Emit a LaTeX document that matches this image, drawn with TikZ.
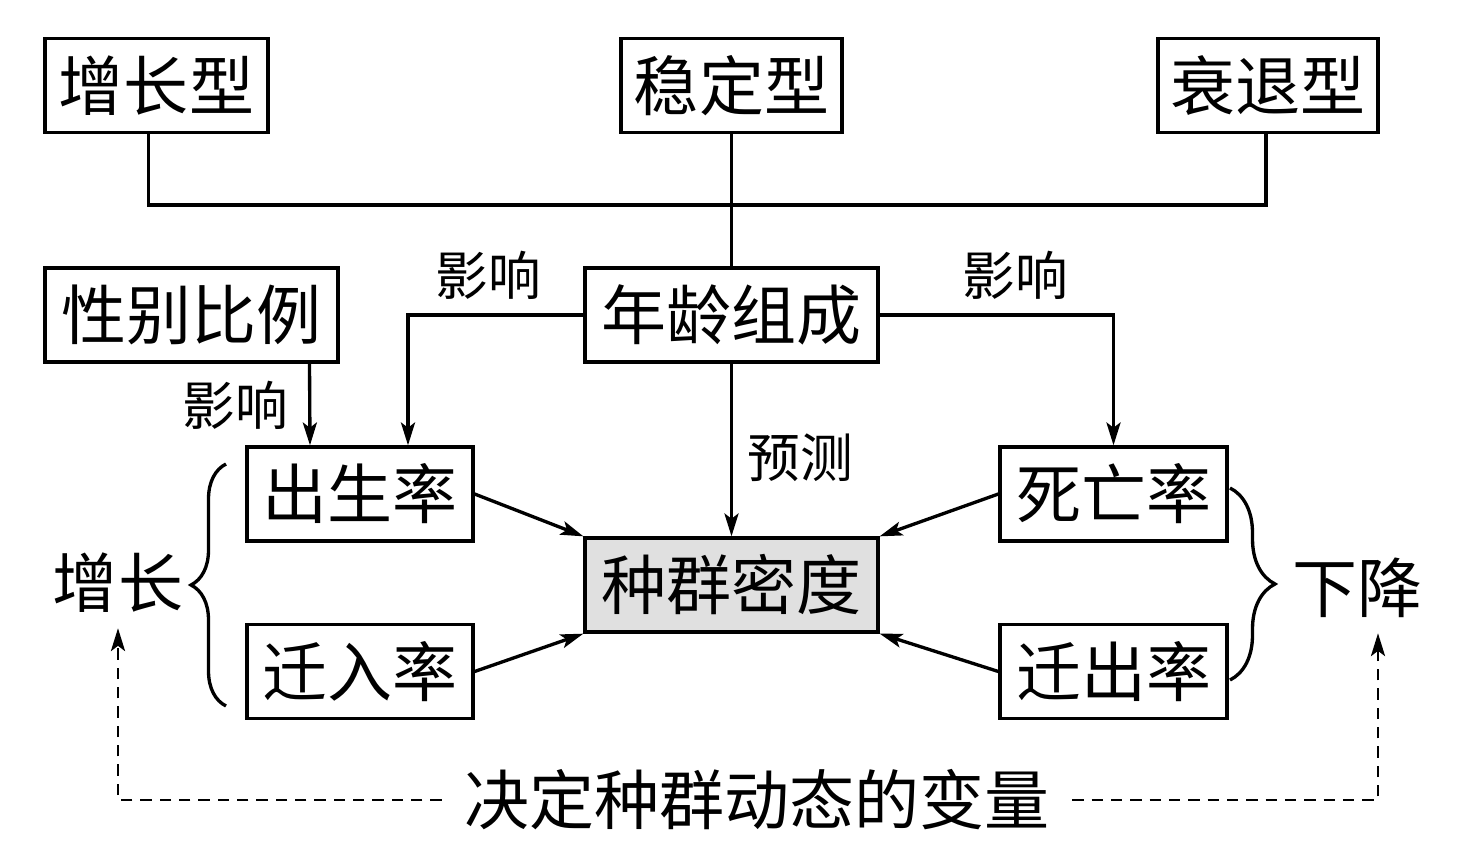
\documentclass[tikz,border=0pt]{standalone}
\usepackage{fontspec}
\setmainfont{Noto Sans CJK SC}
\usetikzlibrary{arrows.meta,calc,decorations.pathreplacing}

\begin{document}
\begin{tikzpicture}[x=0.02cm,y=-0.02cm,
  box/.style={draw,line width=1.9pt,inner sep=0pt,minimum height=1.88cm,font=\fontsize{37}{40}\selectfont},
  big/.style={inner sep=0pt,font=\fontsize{37}{40}\selectfont},
  lbl/.style={inner sep=0pt,font=\fontsize{30}{32}\selectfont},
  link/.style={draw,line width=1.9pt},
  dlink/.style={draw,line width=1.6pt,dash pattern=on 6.5pt off 4.5pt},
  >={Stealth[length=13pt,width=8pt,inset=3pt]}]
\useasboundingbox (0,0) rectangle (1467,858);

\node[box,minimum width=4.46cm] (zz) at (156.5,85.5) {增长型};
\node[box,minimum width=4.42cm] (wd) at (731.5,85.5) {稳定型};
\node[box,minimum width=4.40cm] (sh) at (1268,85.5) {衰退型};
\node[box,minimum width=5.86cm] (nl) at (731.5,315) {年龄组成};
\node[box,minimum width=5.86cm] (xb) at (191.5,315) {性别比例};
\node[box,minimum width=4.52cm] (csl) at (360,494) {出生率};
\node[box,minimum width=4.52cm] (qrl) at (360,671.5) {迁入率};
\node[box,minimum width=4.54cm] (swl) at (1113.5,494) {死亡率};
\node[box,minimum width=4.54cm] (qcl) at (1113.5,671.5) {迁出率};
\node[box,minimum width=5.86cm,fill=black!12] (md) at (731.5,585) {种群密度};

\node[lbl] (yx1) at (488,275) {影响};
\node[lbl] (yx2) at (1015,275) {影响};
\node[lbl] (yx3) at (235,405) {影响};
\node[lbl] (yc) at (800,458) {预测};
\node[big] (zzl) at (118,583) {增长};
\node[big] (xjl) at (1357,588) {下降};
\node[big,inner xsep=0.45cm] (jd) at (757,800) {决定种群动态的变量};

\coordinate (jc) at (731.5,205);
\path[link] ($(zz.south)+(-8,0)$) |- (jc) -| ($(sh.south)+(-2,0)$);
\path[link] (wd.south) -- (nl.north);

\path[link,->] (nl.west) -| ($(csl.north)+(48,0)$);
\path[link,->] (nl.east) -| (swl.north);
\path[link,->] ($(xb.south)+(118,0)$) -- ($(csl.north)+(-50,0)$);
\path[link,->] (nl.south) -- (md.north);
\path[link,->] (csl.east) -- (md.north west);
\path[link,->] (qrl.east) -- (md.south west);
\path[link,->] (swl.west) -- (md.north east);
\path[link,->] (qcl.west) -- (md.south east);

\draw[line width=1.9pt,decorate,decoration={brace,amplitude=0.7cm}] (226,706) -- (226,464);
\draw[line width=1.9pt,decorate,decoration={brace,amplitude=0.9cm}] (1230,488) -- (1230,680);

\path[dlink,->,shorten >=0.3cm] (jd.west) -| (zzl.south);
\path[dlink,->,shorten >=0.3cm] (jd.east) -| ($(xjl.south)+(21,0)$);
\end{tikzpicture}
\end{document}
